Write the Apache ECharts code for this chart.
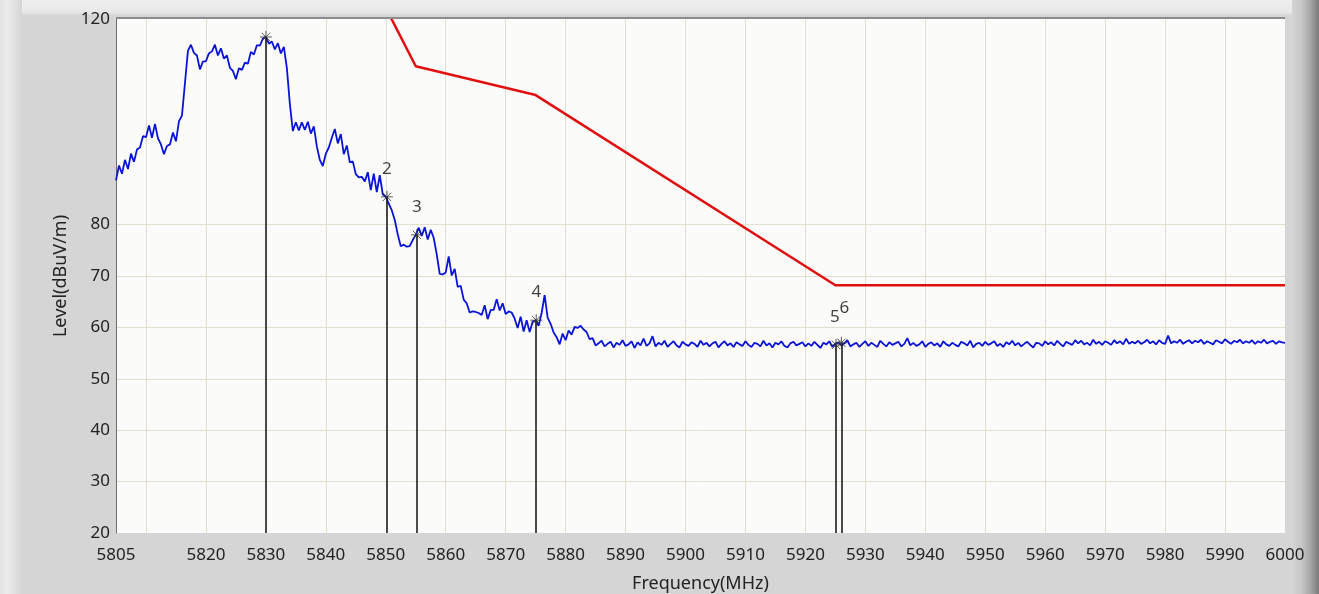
<!DOCTYPE html>
<html>
<head>
<meta charset="utf-8">
<script src="https://cdn.jsdelivr.net/npm/echarts@6/dist/echarts.min.js"></script>
<style>
html,body{margin:0;padding:0;background:#d5d5d5;}
#chart{width:1319px;height:594px;}
</style>
</head>
<body>
<div id="chart"></div>
<script>
// ---- data ----
const traceStart = 5805;   // MHz
const traceStep = 0.5;     // MHz
const traceLevel = [
  88.6,91.5,89.9,92.6,90.8,93.8,92.2,94.6,95.0,97.2,
  97.0,99.3,96.9,99.6,96.8,95.6,93.7,95.3,95.6,97.9,
  96.2,100.1,101.2,107.5,113.8,115.0,113.4,112.9,110.2,111.7,
  111.8,113.3,113.7,115.0,112.9,114.3,112.3,112.9,110.5,109.9,
  108.3,110.4,110.1,111.5,111.3,113.6,113.1,114.9,114.8,116.2,
  116.5,115.2,115.6,114.1,115.3,113.3,114.6,110.5,103.5,98.2,
  99.9,98.3,99.9,98.4,100.0,97.7,99.1,95.2,92.6,91.4,
  93.8,95.0,96.9,98.6,95.8,97.6,93.7,95.4,92.1,92.3,
  89.8,89.2,89.3,88.4,90.2,86.7,89.9,86.3,89.6,85.9,
  85.4,84.1,82.8,80.9,78.1,75.8,76.1,75.7,75.8,77.0,
  78.0,79.4,77.8,79.5,77.1,79.0,77.4,74.2,70.4,70.3,
  70.7,73.8,70.1,71.4,67.9,68.1,65.4,64.7,62.9,63.1,
  63.0,62.8,62.4,64.3,61.6,63.4,63.4,65.5,63.3,64.7,
  62.6,63.1,62.9,61.7,59.9,62.1,59.2,61.4,59.1,61.1,
  61.4,60.3,62.8,66.3,61.9,60.7,59.0,58.1,56.7,58.8,
  57.5,59.4,58.6,60.1,59.9,60.3,59.6,59.1,57.7,57.9,
  56.5,
  56.9,57.4,56.3,56.8,57.2,56.1,57.0,56.6,57.5,56.4,
  56.7,57.3,56.0,57.1,56.5,57.8,56.4,56.9,58.3,56.3,
  57.0,56.6,57.4,56.2,56.8,57.3,56.5,56.1,57.2,56.7,
  56.4,57.1,56.8,56.2,57.4,56.6,57.0,56.3,56.9,57.2,
  56.1,56.8,57.3,56.5,56.9,56.2,57.1,56.7,56.4,57.3,
  56.6,56.2,57.0,56.8,56.3,57.4,56.5,56.9,56.1,57.0,
  56.7,57.3,56.4,56.1,56.9,57.2,56.5,56.8,57.1,56.3,
  56.9,56.4,57.2,56.6,56.0,57.0,56.7,57.3,56.2,56.8,
  57.1,56.5,56.9,57.5,56.3,56.7,57.0,56.2,56.8,57.3,
  56.4,57.0,56.6,56.2,57.4,56.8,56.3,57.1,56.6,56.9,
  57.2,56.3,56.8,57.9,56.5,57.0,56.4,56.7,57.3,56.2,
  56.8,57.1,56.5,56.9,56.2,57.3,56.7,56.4,57.0,56.6,
  56.3,57.2,56.9,56.5,57.4,56.1,56.8,57.0,56.4,57.2,
  56.6,56.9,57.3,56.4,56.8,56.2,57.1,56.7,57.4,56.5,
  57.0,56.3,56.8,57.2,56.6,56.1,57.0,56.9,56.4,57.3,
  56.7,57.1,56.5,57.4,56.8,56.3,57.2,56.9,56.6,57.5,
  56.9,57.4,56.7,57.0,56.5,57.6,56.8,57.2,56.6,57.3,
  57.0,56.6,57.5,56.9,57.3,56.7,57.8,56.8,57.2,56.9,
  57.4,56.8,57.1,57.6,56.9,57.3,56.7,57.5,57.0,56.8,
  58.4,56.9,57.3,57.0,57.6,56.8,57.2,57.5,56.9,57.4,
  57.1,57.6,56.8,57.3,57.0,56.7,57.5,57.2,56.9,57.7,
  57.2,56.8,57.4,57.1,57.6,56.9,57.3,57.0,57.5,56.8,
  57.3,57.0,57.6,56.9,57.2,57.4,56.8,57.3,57.1,57.0
];
const limitFreq  = [5850, 5855, 5875, 5925, 6000];
const limitLevel = [122.2, 110.8, 105.2, 68.2, 68.2];
const markerFreq  = [5830, 5850.2, 5855.2, 5875.1, 5925.1, 5926.0];
const markerLevel = [116.5, 85.4, 78.0, 61.4, 56.6, 57.0];
const markerLabel = ['', '2', '3', '4', '5', '6'];
const xTickLabels = [5805, 5820, 5830, 5840, 5850, 5860, 5870, 5880, 5890, 5900, 5910, 5920, 5930, 5940, 5950, 5960, 5970, 5980, 5990, 6000];
const xGridValues = [5810, 5820, 5830, 5840, 5850, 5860, 5870, 5880, 5890, 5900, 5910, 5920, 5930, 5940, 5950, 5960, 5970, 5980, 5990];
const yTickLabels = [20, 30, 40, 50, 60, 70, 80, 120];
const yGridValues = [30, 40, 50, 60, 70, 80];

// ---- build ----
const traceData = traceLevel.map((v, i) => [traceStart + i * traceStep, v]);
const limitData = limitFreq.map((f, i) => [f, limitLevel[i]]);
const markerData = markerFreq.map((f, i) => ({
  value: [f, markerLevel[i]],
  label: {
    formatter: markerLabel[i],
    distance: i === 5 ? 20 : 13,
    offset: i === 5 ? [3, 0] : (i === 4 ? [-1, 0] : [0, 0])
  }
}));
const markerLines = markerFreq.map((f, i) => [{coord: [f, 20]}, {coord: [f, markerLevel[i]]}]);

const FONT = "'Noto Sans', 'DejaVu Sans', sans-serif";
const chart = echarts.init(document.getElementById('chart'), null, {renderer: 'canvas'});
chart.setOption({
  animation: false,
  backgroundColor: '#d5d5d5',
  graphic: [
    {type: 'rect', z: -10, shape: {x: 0, y: 0, width: 1319, height: 15},
      style: {fill: new echarts.graphic.LinearGradient(0, 0, 0, 1, [{offset: 0, color: '#efefef'}, {offset: 0.8, color: '#e8e8e8'}, {offset: 1, color: '#dadada'}])}},
    {type: 'rect', z: -10, shape: {x: 0, y: 0, width: 22, height: 594},
      style: {fill: new echarts.graphic.LinearGradient(0, 0, 1, 0, [{offset: 0, color: '#e2e2e2'}, {offset: 0.3, color: '#ececec'}, {offset: 1, color: '#d5d5d5'}])}},
    {type: 'rect', z: -10, shape: {x: 1292, y: 0, width: 27, height: 594},
      style: {fill: new echarts.graphic.LinearGradient(0, 0, 1, 0, [{offset: 0, color: '#d5d5d5'}, {offset: 0.35, color: '#c6c6c6'}, {offset: 0.7, color: '#a4a4a4'}, {offset: 1, color: '#7a7a7a'}])}},
    {type: 'line', z: 10, shape: {x1: 116, y1: 18, x2: 1285, y2: 18}, style: {stroke: '#8c8c8c', lineWidth: 2}}
  ],
  grid: {left: 116, right: 34, top: 19, bottom: 61, show: true, backgroundColor: '#fbfbf9', borderWidth: 0, containLabel: false, outerBoundsMode: 'none'},
  xAxis: {
    type: 'value', min: 5805, max: 6000,
    name: 'Frequency(MHz)', nameLocation: 'middle', nameGap: 42,
    nameTextStyle: {fontFamily: FONT, fontSize: 18, color: '#222'},
    axisLine: {show: false},
    axisTick: {show: false, customValues: xGridValues},
    axisLabel: {customValues: xTickLabels, formatter: v => String(v), fontFamily: FONT, fontSize: 17, color: '#222', margin: 14},
    splitLine: {show: true, lineStyle: {color: '#e3dfcf', width: 1}}
  },
  yAxis: {
    type: 'value', min: 20, max: 120, interval: 10,
    name: 'Level(dBuV/m)', nameLocation: 'middle', nameGap: 40,
    nameTextStyle: {fontFamily: FONT, fontSize: 18, color: '#222'},
    axisLine: {show: true, lineStyle: {color: '#6e6e6e', width: 1}},
    axisTick: {show: false, customValues: yGridValues},
    axisLabel: {customValues: yTickLabels, formatter: v => String(v), fontFamily: FONT, fontSize: 17, color: '#222', margin: 6},
    splitLine: {show: true, lineStyle: {color: '#e3dfcf', width: 1}}
  },
  series: [
    {
      type: 'line', name: 'Limit', data: limitData, symbol: 'none', z: 3,
      lineStyle: {color: '#e01010', width: 2.5}, clip: true
    },
    {
      type: 'line', name: 'Trace', data: traceData, symbol: 'none', z: 4,
      lineStyle: {color: '#0a14d8', width: 1.8}
    },
    {
      type: 'scatter', name: 'Markers', data: markerData, z: 6,
      symbol: 'path://M6,0L6,12M0,6L12,6M1.8,1.8L10.2,10.2M1.8,10.2L10.2,1.8',
      symbolSize: 12, symbolKeepAspect: true,
      itemStyle: {color: 'rgba(0,0,0,0)', borderColor: '#333', borderWidth: 1},
      label: {show: true, position: 'top', fontFamily: FONT, fontSize: 17, color: '#111'},
      markLine: {
        silent: true, symbol: 'none', animation: false,
        label: {show: false},
        lineStyle: {color: '#111', width: 1.5, type: 'solid'},
        data: markerLines
      }
    }
  ]
});
</script>
</body>
</html>
